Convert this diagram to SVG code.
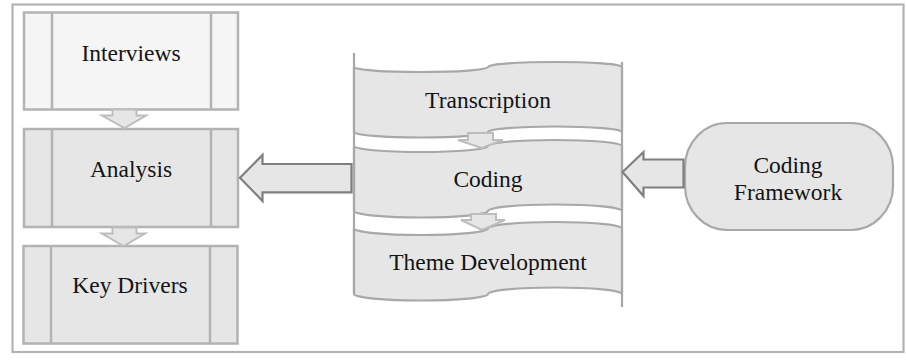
<svg xmlns="http://www.w3.org/2000/svg" width="906" height="360" viewBox="0 0 906 360">
<defs>
<style>
text{font-family:"Liberation Serif","Times New Roman",serif;font-size:23.5px;fill:#141414;text-anchor:middle}
.box{fill:#e6e6e6;stroke:#b3b3b3;stroke-width:2.5}
.light{fill:#f5f5f5}
.div{stroke:#b3b3b3;stroke-width:2.5;fill:none}
.tape{fill:#e6e6e6;stroke:#a8a8a8;stroke-width:2.2}
.small{fill:#e6e6e6;stroke:#bdbdbd;stroke-width:2}
.big{fill:#e6e6e6;stroke:#7f7f7f;stroke-width:2.2;stroke-linejoin:miter}
</style>
</defs>
<rect width="906" height="360" fill="#fff"/>
<rect x="12.5" y="4.5" width="891" height="347.5" fill="none" stroke="#b3b3b3" stroke-width="2.2"/>

<g id="interviews">
<rect class="box light" x="24" y="12.5" width="214" height="97"/>
<line class="div" x1="52" y1="12.5" x2="52" y2="109.5"/>
<line class="div" x1="211" y1="12.5" x2="211" y2="109.5"/>
<text x="131" y="61">Interviews</text>
</g>
<g id="analysis">
<rect class="box" x="24" y="129" width="214" height="98"/>
<line class="div" x1="52" y1="129" x2="52" y2="227"/>
<line class="div" x1="211" y1="129" x2="211" y2="227"/>
<text x="131" y="177">Analysis</text>
</g>
<g id="key-drivers">
<rect class="box" x="23.5" y="246" width="214" height="97.5"/>
<line class="div" x1="51" y1="246" x2="51" y2="343.5"/>
<line class="div" x1="210" y1="246" x2="210" y2="343.5"/>
<text x="130" y="293">Key Drivers</text>
</g>

<g id="transcription">
<path class="tape" d="M354,67 A67,5 0 0 0 488,67 A67,5 0 0 1 622,67 L622,132 A67,5.5 0 0 0 488,132 A67,5.5 0 0 1 354,132 Z"/>
<text x="488" y="108">Transcription</text>
</g>
<g id="coding">
<path class="tape" d="M354,146 A67,6 0 0 0 488,146 A67,6 0 0 1 622,146 L622,211 A67,6.5 0 0 0 488,211 A67,6.5 0 0 1 354,211 Z"/>
<text x="488" y="187">Coding</text>
</g>
<g id="theme-development">
<path class="tape" d="M354,228.5 A67,6.5 0 0 0 488,228.5 A67,6.5 0 0 1 622,228.5 L622,294 A67,6.5 0 0 0 488,294 A67,6.5 0 0 1 354,294 Z"/>
<text x="488" y="270">Theme Development</text>
</g>

<g id="coding-framework">
<rect class="tape" x="685" y="123" width="208" height="107" rx="42" ry="44"/>
<text x="788" y="173">Coding</text>
<text x="788" y="200">Framework</text>
</g>

<g id="connectors">
<line x1="354" y1="53" x2="354" y2="294" stroke="#a8a8a8" stroke-width="2.2"/>
<line x1="622" y1="62" x2="622" y2="307" stroke="#a8a8a8" stroke-width="2.2"/>
<path class="small" d="M112.5,109.5 L136.5,109.5 L136.5,115.5 L146,115.5 L124.5,128 L102,115.5 L112.5,115.5 Z"/>
<path class="small" d="M112.5,227.5 L136.5,227.5 L136.5,233.5 L145,233.5 L123.5,246 L102,233.5 L112.5,233.5 Z"/>
<path class="small" d="M468,133 L493,133 L493,140 L503,140 L481.5,148 L458,140 L468,140 Z"/>
<path class="small" d="M471,214 L496,214 L496,220 L505,220 L482,230 L461,220 L471,220 Z"/>
<path class="big" d="M351.5,164 L262.5,164 L262.5,155 L240,177.7 L262.5,201 L262.5,192.3 L351.5,192.3 Z"/>
<path class="big" d="M683.5,159.5 L643.5,159.5 L643.5,152 L622.5,172 L643.5,196 L643.5,187.5 L683.5,187.5 Z"/>
</g>
</svg>
